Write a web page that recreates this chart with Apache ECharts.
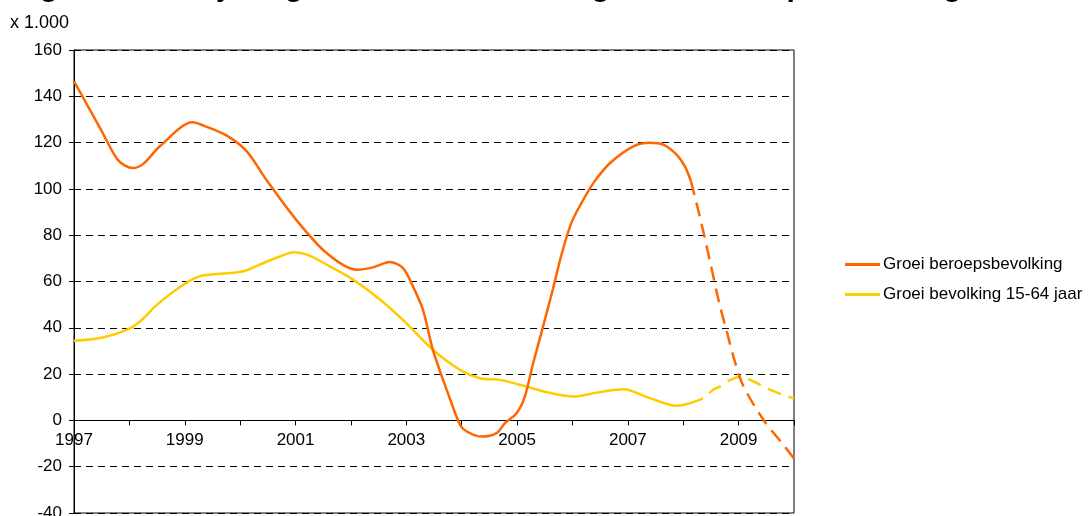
<!DOCTYPE html>
<html>
<head>
<meta charset="utf-8">
<script src="https://cdn.jsdelivr.net/npm/echarts@6/dist/echarts.min.js"></script>
<style>
  html, body { margin: 0; padding: 0; background: #fff; }
  #main { width: 1092px; height: 516px; }
</style>
</head>
<body>
<div id="main"></div>
<script>
// jaren (x) en waarden (x 1.000)
var beroepsJaar = [1997, 1997.5, 1997.8, 1998.06, 1998.25, 1998.55, 1999.14, 1999.4, 1999.76, 2000.12, 2000.47, 2001, 2001.56, 2002.1, 2002.4, 2002.7, 2002.94, 2003.12, 2003.3, 2003.48, 2003.73, 2003.97, 2004.09, 2004.36, 2004.63, 2004.78, 2004.99, 2005.14, 2005.29, 2005.47, 2005.65, 2005.81, 2005.98, 2006.13, 2006.38, 2006.68, 2007.1, 2007.4, 2007.64, 2007.88, 2008.03, 2008.14];
var beroepsWaarde = [146.5, 125, 112.3, 109, 110.8, 118.4, 128.8, 126.8, 123, 116.2, 104, 87, 72.3, 65.1, 66.1, 68.4, 65.8, 57.9, 47.8, 30.5, 13.2, -1.9, -4.8, -7, -5.5, -1.2, 3.1, 10.3, 24.7, 40.6, 57, 72.3, 85.3, 92.5, 102.6, 111.2, 118.4, 119.9, 119.1, 114.8, 109.7, 103.3];
var beroepsProgJaar = [2008.14, 2008.3, 2008.49, 2008.65, 2008.78, 2008.94, 2009.09, 2009.45, 2009.81, 2010];
var beroepsProgWaarde = [103.3, 88, 68, 50.7, 39, 24.7, 14.6, 0.2, -10.6, -16.5];

var bevolkingJaar = [1997, 1997.5, 1998, 1998.25, 1998.5, 1999, 1999.3, 1999.82, 2000.06, 2000.42, 2000.72, 2000.96, 2001.26, 2001.62, 2002.04, 2002.53, 2003, 2003.48, 2003.97, 2004.33, 2004.69, 2005.05, 2005.6, 2006.02, 2006.44, 2006.92, 2007.4, 2007.88, 2008.12];
var bevolkingWaarde = [34.4, 35.7, 39.6, 44, 50, 59, 62.5, 63.7, 64.4, 68, 70.8, 72.6, 71.1, 66.5, 60.8, 52.1, 42, 30.5, 21.8, 18.2, 17.5, 15.4, 11.8, 10.3, 12, 13.5, 9.6, 6.3, 7.4];
var bevolkingProgJaar = [2008.12, 2008.36, 2008.54, 2008.66, 2008.85, 2009.03, 2009.27, 2009.57, 2009.9, 2010];
var bevolkingProgWaarde = [7.4, 9.6, 13.2, 14.6, 17.5, 18.9, 16.8, 13.2, 10.3, 9.5];

var reeksNamen = ['Groei beroepsbevolking', 'Groei bevolking 15-64 jaar'];
var kleuren = ['#FF6600', '#FFCC00'];

function paren(xs, ys) {
  return xs.map(function (x, i) { return [x, ys[i]]; });
}

var fam = 'Liberation Sans, Arial, sans-serif';
var chart = echarts.init(document.getElementById('main'));

var option = {
  animation: false,
  textStyle: { fontFamily: fam },
  title: [{
    // titel valt grotendeels buiten beeld, alleen de onderstokken zijn zichtbaar
    text: 'Figuur 1 Jaarlijkse groei van de bevolking en de beroepsbevolking',
    left: 8,
    top: -32,
    textStyle: { fontSize: 30, fontWeight: 'bold', color: '#000', fontFamily: fam }
  }, {
    text: 'x 1.000',
    left: 5,
    top: 9,
    textStyle: { fontSize: 18, fontWeight: 'normal', color: '#000', fontFamily: fam }
  }],
  legend: {
    orient: 'vertical',
    left: 840,
    top: 251,
    itemWidth: 35,
    itemHeight: 3,
    itemGap: 13,
    icon: 'rect',
    data: reeksNamen,
    textStyle: { fontSize: 17, color: '#000', padding: [0, 0, 0, -2] }
  },
  grid: {
    left: 74,
    right: 298,
    top: 50,
    bottom: 3,
    outerBoundsMode: 'none',
    show: true,
    borderColor: '#000',
    borderWidth: 1
  },
  xAxis: {
    type: 'value',
    min: 1997,
    max: 2010,
    interval: 1,
    offset: -92.6,
    axisLine: { onZero: false, lineStyle: { color: '#000', width: 1 } },
    axisTick: { show: true, length: 5, lineStyle: { color: '#000' } },
    axisLabel: {
      margin: 11,
      fontSize: 17,
      color: '#000',
      formatter: function (v) {
        return ((v - 1997) % 2 === 0 && v < 2010) ? String(v) : '';
      }
    },
    splitLine: { show: false }
  },
  yAxis: {
    type: 'value',
    min: -40,
    max: 160,
    interval: 20,
    axisLine: { show: true, lineStyle: { color: '#000', width: 1 } },
    axisTick: { show: true, length: 5, lineStyle: { color: '#000' } },
    axisLabel: { margin: 12, fontSize: 17, color: '#000' },
    splitLine: { show: true, lineStyle: { color: '#000', type: [7, 5], width: 1 } }
  },
  series: [{
    name: reeksNamen[0],
    type: 'line',
    smooth: 0.3,
    showSymbol: false,
    z: 3,
    itemStyle: { color: kleuren[0] },
    lineStyle: { color: kleuren[0], width: 2.5 },
    data: paren(beroepsJaar, beroepsWaarde)
  }, {
    name: reeksNamen[0] + ' (prognose)',
    type: 'line',
    smooth: 0.3,
    showSymbol: false,
    z: 3,
    itemStyle: { color: kleuren[0] },
    lineStyle: { color: kleuren[0], width: 2.5, type: [14, 8] },
    data: paren(beroepsProgJaar, beroepsProgWaarde)
  }, {
    name: reeksNamen[1],
    type: 'line',
    smooth: 0.3,
    showSymbol: false,
    z: 2,
    itemStyle: { color: kleuren[1] },
    lineStyle: { color: kleuren[1], width: 2.5 },
    data: paren(bevolkingJaar, bevolkingWaarde)
  }, {
    name: reeksNamen[1] + ' (prognose)',
    type: 'line',
    smooth: 0.3,
    showSymbol: false,
    z: 2,
    itemStyle: { color: kleuren[1] },
    lineStyle: { color: kleuren[1], width: 2.5, type: [14, 8] },
    data: paren(bevolkingProgJaar, bevolkingProgWaarde)
  }]
};

chart.setOption(option);
</script>
</body>
</html>
